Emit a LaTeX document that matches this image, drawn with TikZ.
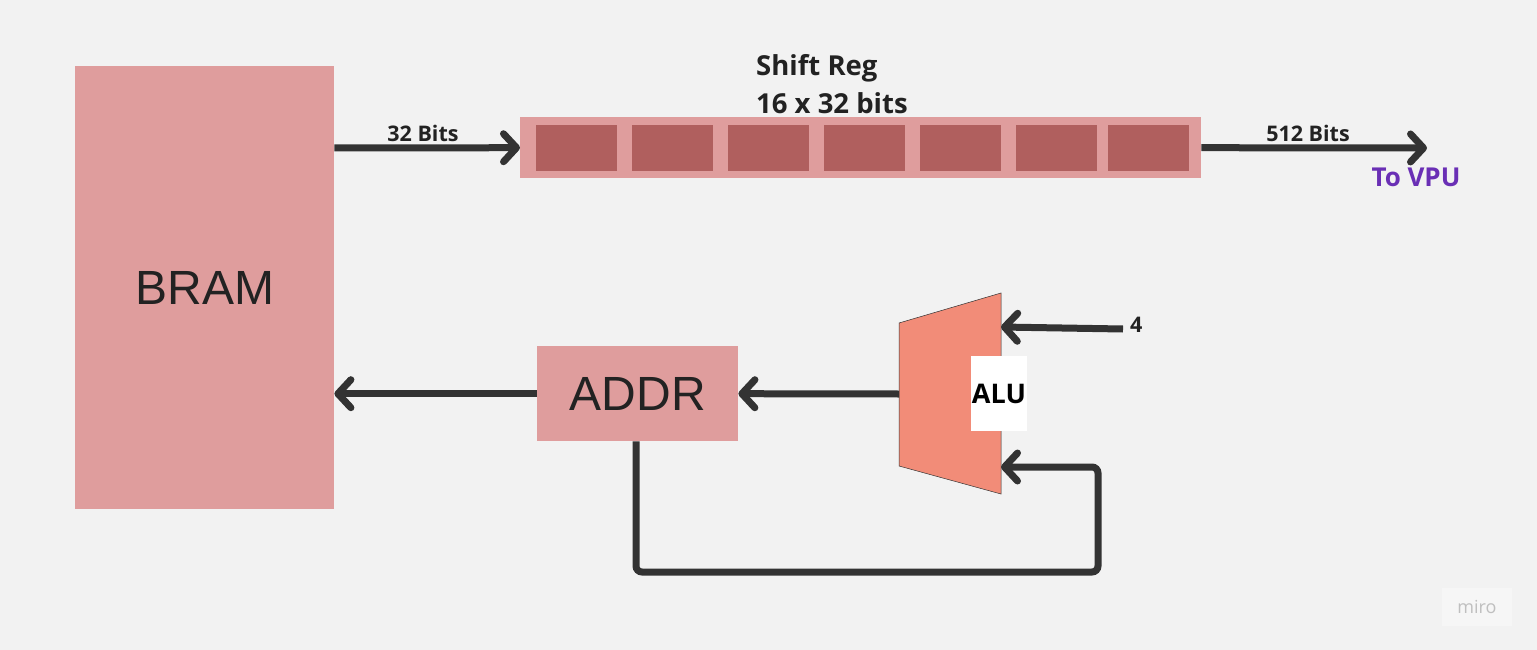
\documentclass[tikz,border=0pt]{standalone}
\usepackage{fontspec}
\setmainfont{Open Sans}
\newfontfamily\boxfont{Liberation Sans}
\usetikzlibrary{arrows.meta}
\definecolor{bg}{HTML}{F2F2F2}
\definecolor{pinkbox}{HTML}{DF9D9D}
\definecolor{cellc}{HTML}{B05F5E}
\definecolor{alufill}{HTML}{F28C78}
\definecolor{wire}{HTML}{333333}
\definecolor{vpu}{HTML}{6A2FB5}
\definecolor{txt}{HTML}{222222}
\tikzset{
  blockbox/.style={fill=pinkbox, draw=none, inner sep=0pt, text=txt,
    font=\boxfont\fontsize{48}{50}\selectfont},
  cellbox/.style={fill=cellc, draw=none, inner sep=0pt, minimum width=81pt, minimum height=46pt},
  bigarrow/.style={draw=wire, line width=7pt,
    -{Straight Barb[length=13pt,width=28pt,round]}},
  wirelabel/.style={font=\bfseries\fontsize{21.5}{23}\selectfont, text=txt, inner sep=0pt},
}
\begin{document}
\begin{tikzpicture}[x=1pt,y=1pt]
\fill[bg] (0,0) rectangle (1537,-650);
\useasboundingbox (0,0) rectangle (1537,-650);

% BRAM
\node[blockbox, minimum width=259pt, minimum height=443pt, anchor=north west] (bram) at (75,-66) {};
\node[font=\boxfont\fontsize{48}{50}\selectfont, text=txt, inner sep=0pt] (bramt) at (205,-288) {BRAM};

% shift register
\node[fill=pinkbox, inner sep=0pt, minimum width=681pt, minimum height=61pt, anchor=north west] (sr) at (520,-117) {};
\foreach \i/\x in {1/536,2/632,3/728,4/824,5/920,6/1016} {
  \node[cellbox, anchor=north west] (c\i) at (\x,-125) {};
}
\node[cellbox, anchor=north west] (c7) at (1108,-125) {};
\node[font=\bfseries\fontsize{27.5}{38}\selectfont, text=txt, align=left, inner sep=0pt, anchor=north west] (srlabel) at (756,-54) {Shift Reg\\16 x 32 bits};

% arrows to/from shift reg
\coordinate (vpuend) at (1427,-148);
\draw[bigarrow] (bram.east |- 0,-148) -- (sr.west);
\node[wirelabel] (l32) at (423,-133) {32 Bits};
\draw[bigarrow] (sr.east) -- (vpuend);
\node[wirelabel] (l512) at (1308,-133) {512 Bits};
\node[font=\bfseries\fontsize{26}{28}\selectfont, text=vpu, inner sep=0pt] (tovpu) at (1416,-177) {To VPU};

% ADDR
\node[blockbox, minimum width=201pt, minimum height=95pt, anchor=north west] (addr) at (537,-346) {ADDR};

% ALU
\coordinate (alutl) at (899,-323);
\coordinate (alutr) at (1001,-293);
\coordinate (alubr) at (1001,-494);
\coordinate (alubl) at (899,-466);
\coordinate (aluin) at (899,-394);
\coordinate (aluin1) at (1001,-327);
\coordinate (aluin2) at (1001,-467);
\fill[alufill] (alutl) -- (alutr) -- (alubr) -- (alubl) -- cycle;
\draw[wire, line width=0.5pt] (alutl) -- (alutr) -- (alubr) -- (alubl) -- cycle;
\node[fill=white, minimum width=56pt, minimum height=75pt, inner sep=0pt, font=\bfseries\fontsize{27}{29}\selectfont, text=black] (alut) at (999,-393.5) {ALU};

% ALU input 4
\coordinate (fourstart) at (1123,-329);
\draw[bigarrow] (fourstart) -- (aluin1);
\node[wirelabel, anchor=west] (four) at (1130,-325) {4};

% ALU -> ADDR -> BRAM
\draw[bigarrow] (aluin) -- (addr.east);
\draw[bigarrow] (addr.west) -- (bram.east |- addr.west);

% feedback loop
\draw[bigarrow, rounded corners=6pt] (addr.south -| 636,0) -- (636,-572) -- (1098,-572) -- (1098,-467) -- (aluin2);

% watermark
\fill[white, opacity=0.35] (1442,-588) rectangle (1512,-626);
\node[font=\fontsize{18}{20}\selectfont, text=black!25, inner sep=0pt] (miro) at (1477,-607) {miro};
\end{tikzpicture}
\end{document}
